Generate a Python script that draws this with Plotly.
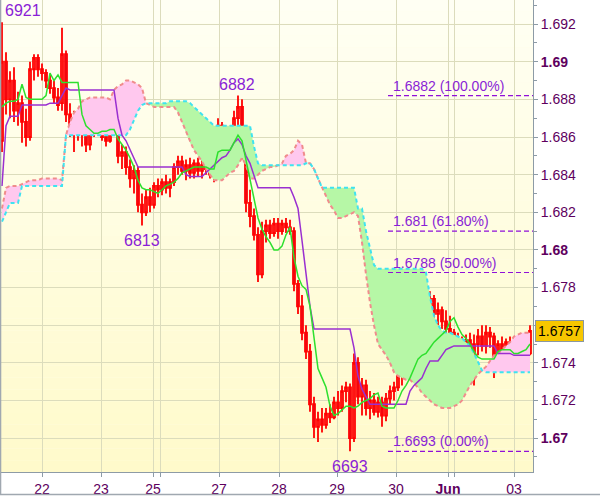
import plotly.graph_objects as go

# ---------------- data (prices in 1/10000 units above 1.0000) ----------------
bar_open = [6858, 6900, 6880, 6890, 6874, 6878, 6868, 6860, 6896, 6902,
            6896, 6894, 6890, 6886, 6881, 6878, 6904, 6872, 6864, 6870,
            6862, 6866, 6856, 6862, 6868, 6864, 6860, 6858, 6868, 6874,
            6850, 6852, 6844, 6838, 6842, 6824, 6820, 6828, 6824, 6834,
            6832, 6836, 6833, 6836, 6844, 6847, 6842, 6845, 6841, 6846,
            6842, 6845, 6843, 6840, 6842, 6866, 6860, 6863, 6859, 6870,
            6876, 6852, 6825, 6818, 6808, 6787, 6810, 6813, 6809, 6814,
            6810, 6814, 6812, 6810, 6782, 6770, 6756, 6746, 6718, 6706,
            6710, 6707, 6713, 6711, 6719, 6716, 6725, 6727, 6700, 6740,
            6722, 6728, 6716, 6720, 6714, 6719, 6712, 6721, 6725, 6727,
            6733, 6735, 6742, 6756, 6738, 6746, 6743, 6752, 6774, 6766,
            6768, 6762, 6758, 6756, 6750, 6748, 6746, 6752, 6738, 6750,
            6754, 6749, 6756, 6754, 6740, 6750, 6747, 6751, 6746, 6749,
            6744, 6747, 6745]
bar_high = [6921, 6905, 6895, 6897, 6884, 6882, 6875, 6900, 6904, 6904,
            6899, 6896, 6893, 6890, 6886, 6918, 6906, 6878, 6874, 6873,
            6870, 6868, 6866, 6872, 6872, 6870, 6867, 6870, 6876, 6876,
            6856, 6855, 6848, 6845, 6844, 6830, 6832, 6833, 6836, 6838,
            6838, 6840, 6838, 6846, 6850, 6850, 6848, 6849, 6848, 6849,
            6848, 6849, 6847, 6845, 6870, 6868, 6866, 6866, 6874, 6882,
            6880, 6856, 6832, 6822, 6812, 6815, 6816, 6816, 6817, 6817,
            6816, 6817, 6816, 6812, 6784, 6776, 6760, 6750, 6722, 6714,
            6716, 6716, 6718, 6722, 6725, 6728, 6730, 6729, 6745, 6743,
            6732, 6731, 6725, 6724, 6722, 6722, 6724, 6728, 6730, 6736,
            6738, 6744, 6758, 6758, 6750, 6752, 6755, 6778, 6776, 6772,
            6770, 6768, 6765, 6758, 6756, 6754, 6755, 6756, 6755, 6758,
            6760, 6760, 6759, 6756, 6752, 6754, 6753, 6754, 6752, 6751,
            6750, 6749, 6760]
bar_low = [6852, 6872, 6870, 6868, 6866, 6857, 6855, 6858, 6890, 6892,
           6890, 6886, 6883, 6878, 6874, 6874, 6868, 6860, 6852, 6858,
           6855, 6852, 6853, 6860, 6861, 6858, 6855, 6857, 6864, 6846,
           6843, 6840, 6833, 6830, 6820, 6813, 6818, 6820, 6822, 6828,
           6829, 6830, 6828, 6834, 6840, 6840, 6837, 6838, 6838, 6839,
           6838, 6840, 6838, 6836, 6841, 6856, 6855, 6857, 6858, 6866,
           6848, 6820, 6812, 6805, 6783, 6785, 6804, 6806, 6807, 6806,
           6808, 6809, 6808, 6778, 6766, 6752, 6742, 6714, 6700, 6698,
           6703, 6705, 6708, 6710, 6712, 6714, 6719, 6693, 6698, 6718,
           6712, 6712, 6710, 6712, 6711, 6706, 6709, 6718, 6720, 6725,
           6728, 6733, 6738, 6733, 6732, 6740, 6741, 6750, 6762, 6760,
           6758, 6755, 6752, 6746, 6744, 6743, 6740, 6735, 6728, 6744,
           6746, 6745, 6748, 6732, 6738, 6744, 6745, 6743, 6744, 6742,
           6741, 6742, 6744]
bar_close = [6900, 6880, 6890, 6874, 6878, 6868, 6860, 6896, 6902, 6896,
             6894, 6890, 6886, 6881, 6877, 6904, 6872, 6864, 6870, 6862,
             6866, 6856, 6862, 6868, 6864, 6860, 6858, 6868, 6874, 6850,
             6852, 6844, 6838, 6842, 6824, 6820, 6828, 6824, 6834, 6832,
             6836, 6833, 6836, 6844, 6847, 6842, 6845, 6841, 6846, 6842,
             6845, 6843, 6840, 6842, 6866, 6860, 6863, 6859, 6870, 6876,
             6852, 6825, 6818, 6808, 6787, 6810, 6813, 6809, 6814, 6810,
             6814, 6812, 6810, 6782, 6770, 6756, 6746, 6718, 6706, 6710,
             6707, 6713, 6711, 6719, 6716, 6725, 6727, 6700, 6740, 6722,
             6728, 6716, 6720, 6714, 6719, 6712, 6721, 6725, 6727, 6733,
             6735, 6742, 6756, 6738, 6746, 6743, 6752, 6774, 6766, 6768,
             6762, 6758, 6756, 6750, 6748, 6746, 6752, 6738, 6750, 6754,
             6749, 6756, 6754, 6740, 6750, 6747, 6751, 6746, 6749, 6744,
             6747, 6745, 6757]
tenkan = [6876, 6878, 6879, 6879, 6880, 6888, 6881, 6880, 6880, 6880,
          6880, 6882, 6894, 6890, 6893, 6889, 6889, 6889, 6889, 6889,
          6872, 6866, 6864, 6862, 6862, 6863, 6863, 6864, 6864, 6859,
          6856, 6853, 6849, 6844, 6837, 6833, 6832, 6832, 6831, 6830,
          6832, 6834, 6835, 6836, 6838, 6841, 6842, 6843, 6844, 6844,
          6844, 6844, 6843, 6843, 6852, 6853, 6853, 6853, 6857, 6861,
          6858, 6848, 6838, 6827, 6817, 6811, 6807, 6804, 6800, 6800,
          6802, 6808, 6812, 6796, 6786, 6781, 6779, 6770, 6752, 6737,
          6732, 6727, 6717, 6712, 6713, 6715, 6717, 6717, 6716, 6717,
          6719, 6720, 6721, 6723, 6724, 6717, 6716, 6716, 6716, 6720,
          6725, 6728, 6732, 6737, 6742, 6744, 6745, 6748, 6751, 6753,
          6755, 6757, 6762, 6764, 6759, 6755, 6753, 6750, 6746, 6743,
          6742, 6742, 6742, 6742, 6746, 6747, 6747, 6747, 6745, 6745,
          6746, 6747, 6750]
kijun = [6834, 6866, 6871, 6871, 6871, 6877, 6877, 6877, 6877, 6877,
         6877, 6877, 6878, 6878, 6878, 6882, 6886, 6885, 6885, 6885,
         6885, 6885, 6885, 6885, 6885, 6885, 6885, 6885, 6885, 6870,
         6861, 6858, 6853, 6848, 6844, 6844, 6844, 6844, 6844, 6844,
         6844, 6844, 6844, 6844, 6844, 6844, 6840, 6839, 6839, 6839,
         6839, 6841, 6843, 6845, 6847, 6849, 6850, 6853, 6857, 6859,
         6856, 6850, 6846, 6840, 6833, 6833, 6833, 6833, 6833, 6833,
         6833, 6833, 6833, 6828, 6822, 6805, 6788, 6770, 6758, 6758,
         6758, 6758, 6758, 6758, 6758, 6758, 6758, 6758, 6748, 6733,
         6726, 6722, 6718, 6718, 6718, 6718, 6718, 6718, 6718, 6718,
         6718, 6718, 6725, 6728, 6730, 6732, 6737, 6741, 6741, 6741,
         6744, 6747, 6748, 6749, 6749, 6749, 6749, 6749, 6749, 6749,
         6749, 6749, 6749, 6749, 6745, 6745, 6745, 6745, 6744, 6744,
         6744, 6744, 6744]
span_a = [6815, 6820, 6825, 6825, 6825, 6834, 6834, 6834, 6834, 6834,
          6834, 6834, 6834, 6834, 6834, 6834, 6861, 6861, 6861, 6861,
          6861, 6861, 6861, 6861, 6861, 6861, 6861, 6861, 6861, 6861,
          6861, 6861, 6864, 6869, 6874, 6877, 6878, 6878, 6878, 6878,
          6878, 6878, 6879, 6879, 6879, 6879, 6879, 6878, 6876, 6874,
          6872, 6870, 6868, 6866, 6866, 6866, 6866, 6866, 6866, 6866,
          6866, 6866, 6866, 6855, 6846, 6845, 6845, 6845, 6845, 6845,
          6845, 6845, 6845, 6845, 6845, 6845, 6846, 6846, 6843, 6838,
          6833, 6833, 6833, 6833, 6833, 6833, 6833, 6833, 6833, 6822,
          6822, 6810, 6801, 6792, 6790, 6790, 6790, 6790, 6790, 6790,
          6790, 6790, 6790, 6790, 6790, 6790, 6788, 6775, 6765, 6760,
          6757, 6756, 6756, 6755, 6754, 6753, 6751, 6749, 6745, 6740,
          6736, 6735, 6735, 6735, 6735, 6735, 6735, 6735, 6735, 6735,
          6735, 6735, 6735]
span_b = [6822, 6833, 6834, 6834, 6834, 6835, 6836, 6837, 6837, 6837,
          6838, 6838, 6838, 6838, 6838, 6837, 6861, 6868, 6873, 6875,
          6879, 6880, 6881, 6881, 6881, 6881, 6881, 6880, 6885, 6887,
          6888, 6890, 6890, 6889, 6888, 6886, 6878, 6877, 6876, 6876,
          6876, 6876, 6876, 6876, 6873, 6868, 6862, 6857, 6853, 6850,
          6847, 6843, 6840, 6837, 6837, 6837, 6839, 6841, 6842, 6845,
          6849, 6845, 6838, 6838, 6840, 6842, 6843, 6844, 6844, 6845,
          6846, 6850, 6851, 6853, 6858, 6856, 6846, 6846, 6843, 6838,
          6833, 6829, 6824, 6821, 6817, 6817, 6818, 6819, 6820, 6818,
          6804, 6787, 6772, 6760, 6750, 6747, 6744, 6740, 6735, 6733,
          6732, 6731, 6731, 6729, 6727, 6724, 6722, 6720, 6718, 6717,
          6716, 6716, 6716, 6717, 6718, 6720, 6724, 6728, 6731, 6734,
          6736, 6738, 6741, 6744, 6745, 6747, 6749, 6751, 6754, 6755,
          6756, 6756, 6756]

x_tick_bars = [10, 24.75, 37.75, 39.5, 54.25, 69.25, 83.75, 98.5, 111.5, 113, 128]
x_tick_labels = ["22", "23", "25", "", "27", "28", "29", "30", "<b>Jun</b>", "", "03"]
y_tick_values = [1.670, 1.672, 1.674, 1.676, 1.678, 1.680, 1.682, 1.684, 1.686, 1.688, 1.690, 1.692]
y_tick_labels = ["<b>1.67</b>", "1.672", "1.674", "1.676", "1.678", "<b>1.68</b>", "1.682",
                 "1.684", "1.686", "1.688", "<b>1.69</b>", "1.692"]
extreme_bars = [0, 59, 35, 87]
extreme_kind = ["high", "high", "low", "low"]
fib_values = [1.6882, 1.681, 1.6788, 1.6693]
fib_labels = ["1.6882 (100.00%)", "1.681 (61.80%)", "1.6788 (50.00%)", "1.6693 (0.00%)"]
fib_start_bar = 96.5


def px(v):
    return 1 + v / 10000.0


N = len(bar_close)
idx = list(range(N))

GREEN_FILL = '#b6f7a6'
PINK_FILL = '#ffc8ee'
LBL = '#5e005e'
VIOLET = '#8a1ed6'
AX = '#8d9ba6'
GRID = '#dcdcbc'
FONT = 'Liberation Sans, Arial, sans-serif'

fig = go.Figure()

# ---------------- Ichimoku cloud ----------------
segs = []
xs, sa, sb = [0], [span_a[0]], [span_b[0]]
sgn = 1 if span_a[0] >= span_b[0] else -1
for i in range(1, N):
    d1 = span_a[i] - span_b[i]
    s = sgn if d1 == 0 else (1 if d1 > 0 else -1)
    if s == sgn:
        xs.append(i); sa.append(span_a[i]); sb.append(span_b[i])
    else:
        d0 = span_a[i - 1] - span_b[i - 1]
        t = d0 / (d0 - d1)
        xc = i - 1 + t
        yc = span_a[i - 1] + t * (span_a[i] - span_a[i - 1])
        xs.append(xc); sa.append(yc); sb.append(yc)
        segs.append((sgn, xs, sa, sb))
        xs, sa, sb = [xc, i], [yc, span_a[i]], [yc, span_b[i]]
        sgn = s
segs.append((sgn, xs, sa, sb))

for s, xx, aa, bb in segs:
    fig.add_trace(go.Scatter(
        x=list(xx) + list(xx)[::-1],
        y=[px(v) for v in aa] + [px(v) for v in bb][::-1],
        fill='toself', fillcolor=GREEN_FILL if s > 0 else PINK_FILL,
        mode='lines', line=dict(width=0), hoverinfo='skip', showlegend=False))

fig.add_trace(go.Scatter(x=idx, y=[px(v) for v in span_b], mode='lines',
                         line=dict(color='#f08c8c', width=2, dash='4px,3px'),
                         hoverinfo='skip', showlegend=False))
fig.add_trace(go.Scatter(x=idx, y=[px(v) for v in span_a], mode='lines',
                         line=dict(color='#3fe3f0', width=2, dash='4px,3px'),
                         hoverinfo='skip', showlegend=False))

# ---------------- Kijun / Tenkan ----------------
fig.add_trace(go.Scatter(x=idx, y=[px(v) for v in kijun], mode='lines',
                         line=dict(color='#9a2fd0', width=1.5),
                         hoverinfo='skip', showlegend=False))
fig.add_trace(go.Scatter(x=idx, y=[px(v) for v in tenkan], mode='lines',
                         line=dict(color='#2ee02e', width=1.5),
                         hoverinfo='skip', showlegend=False))

# ---------------- candles ----------------
fig.add_trace(go.Candlestick(
    x=idx,
    open=[px(v) for v in bar_open], high=[px(v) for v in bar_high],
    low=[px(v) for v in bar_low], close=[px(v) for v in bar_close],
    increasing=dict(line=dict(color='#ff0000', width=1.8), fillcolor='#fffbe2'),
    decreasing=dict(line=dict(color='#ff0000', width=1.8), fillcolor='#7a3fa8'),
    whiskerwidth=0, hoverinfo='skip', showlegend=False))

# ---------------- background gradient ----------------
shapes = []
nb = 40
top = (255, 255, 244)
bot = (255, 250, 202)
for k in range(nb):
    t = (k + 0.5) / nb
    c = tuple(round(bot[j] + (top[j] - bot[j]) * t) for j in range(3))
    shapes.append(dict(type='rect', xref='paper', yref='paper', x0=0, x1=1,
                       y0=k / nb, y1=(k + 1) / nb, fillcolor='rgb(%d,%d,%d)' % c,
                       line=dict(width=0), layer='below'))

# ---------------- Fibonacci levels ----------------
annotations = []
for v, lab in zip(fib_values, fib_labels):
    shapes.append(dict(type='line', xref='x', yref='y', x0=fib_start_bar, x1=132.75,
                       y0=v, y1=v, line=dict(color='#9010d8', width=1.2, dash='5px,3px'),
                       layer='above'))
    annotations.append(dict(x=fib_start_bar, y=v, xref='x', yref='y', text=lab,
                            showarrow=False, xanchor='left', yanchor='bottom',
                            xshift=3, yshift=0,
                            font=dict(family=FONT, size=14, color=VIOLET)))

# ---------------- extreme labels ----------------
for b, kind in zip(extreme_bars, extreme_kind):
    if kind == 'high':
        val = bar_high[b]
        annotations.append(dict(x=b, y=px(val), xref='x', yref='y', text=str(val),
                                showarrow=False, xanchor='left' if b == 0 else 'center',
                                yanchor='bottom', yshift=1, xshift=1 if b == 0 else -1,
                                font=dict(family=FONT, size=16, color=VIOLET)))
    else:
        val = bar_low[b]
        annotations.append(dict(x=b, y=px(val), xref='x', yref='y', text=str(val),
                                showarrow=False, xanchor='center', yanchor='top',
                                yshift=-5, xshift=0,
                                font=dict(family=FONT, size=16, color=VIOLET)))

# last price box
annotations.append(dict(x=1, xref='paper', y=px(bar_close[-1]), yref='y',
                        text='%.4f' % px(bar_close[-1]), showarrow=False,
                        xanchor='left', yanchor='middle', xshift=2,
                        bgcolor='#f7c700', bordercolor='#8a98a2', borderwidth=1, borderpad=2,
                        font=dict(family=FONT, size=14, color='black')))

# outer frame (left and bottom)
shapes.append(dict(type='line', xref='paper', yref='paper', x0=0.001, x1=0.001,
                   y0=-23 / 474, y1=1, line=dict(color='#a0a8b0', width=1.5), layer='above'))
shapes.append(dict(type='line', xref='paper', yref='paper', x0=0, x1=600 / 533,
                   y0=-22.5 / 474, y1=-22.5 / 474, line=dict(color='#a0a8b0', width=1.5),
                   layer='above'))

fig.update_layout(
    width=600, height=497,
    margin=dict(l=0, r=67, t=0, b=23, pad=0),
    paper_bgcolor='white', plot_bgcolor='#fffde8',
    showlegend=False, hovermode=False,
    shapes=shapes, annotations=annotations,
    xaxis=dict(range=[-0.5, 132.75], tickmode='array', tickvals=x_tick_bars,
               ticktext=x_tick_labels, showgrid=True, gridcolor=GRID, gridwidth=1,
               ticks='outside', ticklen=4, tickcolor=AX, showline=True, linecolor=AX,
               linewidth=1, zeroline=False, rangeslider=dict(visible=False),
               tickfont=dict(family=FONT, size=14, color=LBL), fixedrange=True),
    yaxis=dict(side='right', range=[1.66820, 1.69328], tickmode='array',
               tickvals=y_tick_values, ticktext=y_tick_labels, showgrid=True,
               gridcolor=GRID, gridwidth=1, ticks='outside', ticklen=4, tickcolor=AX,
               showline=True, linecolor=AX, linewidth=1, zeroline=False,
               tickfont=dict(family=FONT, size=14, color=LBL), fixedrange=True,
               minor=dict(tickmode='array',
                          tickvals=[1.669 + 0.002 * k for k in range(13)],
                          ticks='outside', ticklen=3, tickcolor=AX, showgrid=False)),
)

fig.write_html("out.html", config={'displayModeBar': False},
               post_script="document.body.style.margin='0px';document.body.style.padding='0px';")
